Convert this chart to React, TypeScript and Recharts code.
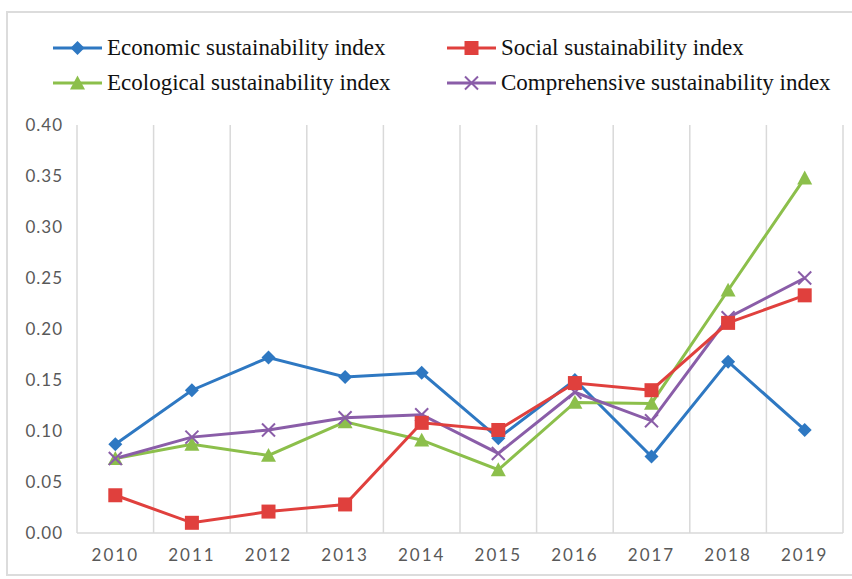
import React from 'react';
import { LineChart, Line, XAxis, YAxis, ReferenceLine } from 'recharts';

const years = ['2010', '2011', '2012', '2013', '2014', '2015', '2016', '2017', '2018', '2019'];
const economic = [0.087, 0.140, 0.172, 0.153, 0.157, 0.093, 0.150, 0.075, 0.168, 0.101];
const social = [0.037, 0.010, 0.021, 0.028, 0.108, 0.101, 0.147, 0.140, 0.206, 0.233];
const ecological = [0.073, 0.087, 0.076, 0.109, 0.091, 0.062, 0.128, 0.127, 0.238, 0.348];
const comprehensive = [0.073, 0.094, 0.101, 0.113, 0.116, 0.078, 0.138, 0.110, 0.211, 0.250];
const yTicks = [0, 0.05, 0.1, 0.15, 0.2, 0.25, 0.3, 0.35, 0.4];

const seriesNames = [
  'Economic sustainability index',
  'Social sustainability index',
  'Ecological sustainability index',
  'Comprehensive sustainability index',
];

type Shape = 'diamond' | 'square' | 'triangle' | 'cross';

const series: { key: string; name: string; color: string; shape: Shape }[] = [
  { key: 'economic', name: seriesNames[0], color: '#2E78C2', shape: 'diamond' },
  { key: 'social', name: seriesNames[1], color: '#E0403D', shape: 'square' },
  { key: 'ecological', name: seriesNames[2], color: '#8CBF4B', shape: 'triangle' },
  { key: 'comprehensive', name: seriesNames[3], color: '#8A5DA8', shape: 'cross' },
];

const data = years.map((y, i) => ({
  idx: i,
  year: y,
  economic: economic[i],
  social: social[i],
  ecological: ecological[i],
  comprehensive: comprehensive[i],
}));

const boundaries = years.map((_, i) => i - 0.5).concat([years.length - 0.5]);

function Marker({ cx, cy, shape, color }: { cx: number; cy: number; shape: Shape; color: string }) {
  if (cx == null || cy == null) return null;
  if (shape === 'diamond') {
    const r = 7;
    return <polygon points={`${cx},${cy - r} ${cx + r},${cy} ${cx},${cy + r} ${cx - r},${cy}`} fill={color} />;
  }
  if (shape === 'square') {
    const s = 7;
    return <rect x={cx - s} y={cy - s} width={2 * s} height={2 * s} fill={color} />;
  }
  if (shape === 'triangle') {
    const s = 7.5;
    return <polygon points={`${cx},${cy - s} ${cx + s},${cy + s * 0.85} ${cx - s},${cy + s * 0.85}`} fill={color} />;
  }
  const r = 6.5;
  return (
    <g stroke={color} strokeWidth={2}>
      <line x1={cx - r} y1={cy - r} x2={cx + r} y2={cy + r} />
      <line x1={cx - r} y1={cy + r} x2={cx + r} y2={cy - r} />
    </g>
  );
}

const legendPos = [
  { left: 53, top: 33 },
  { left: 447, top: 33 },
  { left: 53, top: 68 },
  { left: 447, top: 68 },
];

const drawOrder = ['economic', 'ecological', 'comprehensive', 'social'];

export default function App() {
  return (
    <div style={{ position: 'absolute', left: 0, top: 0, width: 852, height: 579, background: '#fff' }}>
      <div
        style={{
          position: 'absolute',
          left: 6,
          top: 11,
          width: 852,
          height: 565,
          border: '2px solid #dcdcdc',
          boxSizing: 'border-box',
        }}
      />
      {series.map((s, i) => (
        <div
          key={s.key}
          style={{
            position: 'absolute',
            left: legendPos[i].left,
            top: legendPos[i].top,
            height: 30,
            display: 'flex',
            alignItems: 'center',
            whiteSpace: 'nowrap',
          }}
        >
          <svg width={50} height={20} style={{ marginRight: 4 }}>
            <line x1={0} y1={10} x2={49} y2={10} stroke={s.color} strokeWidth={3} />
            <Marker cx={24.5} cy={10} shape={s.shape} color={s.color} />
          </svg>
          <span style={{ fontFamily: '"Liberation Serif", "Times New Roman", serif', fontSize: 23, color: '#111' }}>
            {s.name}
          </span>
        </div>
      ))}
      <div style={{ position: 'absolute', left: 0, top: 0 }}>
        <LineChart width={852} height={579} data={data} margin={{ top: 125, right: 9, left: 17, bottom: 16 }}>
          {boundaries.map((b) => (
            <ReferenceLine key={b} x={b} stroke="#d9d9d9" strokeWidth={1.5} ifOverflow="visible" />
          ))}
          <XAxis
            type="number"
            dataKey="idx"
            domain={[-0.5, years.length - 0.5]}
            ticks={years.map((_, i) => i)}
            tickFormatter={(v: number) => years[v]}
            interval={0}
            height={30}
            axisLine={{ stroke: '#d9d9d9', strokeWidth: 1.5 }}
            tickLine={false}
            tickSize={6}
            tickMargin={10}
            tick={{ fill: '#595959', fontSize: 17, fontFamily: 'Lato, "Open Sans", sans-serif', letterSpacing: 2 }}
          />
          <YAxis
            type="number"
            domain={[0, 0.4]}
            ticks={yTicks}
            tickFormatter={(v: number) => v.toFixed(2)}
            width={60}
            axisLine={false}
            tickLine={false}
            tickSize={6}
            tickMargin={8}
            tick={{ fill: '#595959', fontSize: 17, fontFamily: 'Lato, "Open Sans", sans-serif', letterSpacing: 1 }}
          />
          {drawOrder.map((k) => {
            const s = series.find((x) => x.key === k)!;
            return (
              <Line
                key={s.key}
                type="linear"
                dataKey={s.key}
                name={s.name}
                stroke={s.color}
                strokeWidth={3}
                isAnimationActive={false}
                dot={(p: any) => <Marker key={`${s.key}-${p.index}`} cx={p.cx} cy={p.cy} shape={s.shape} color={s.color} />}
                activeDot={false}
              />
            );
          })}
        </LineChart>
      </div>
    </div>
  );
}
